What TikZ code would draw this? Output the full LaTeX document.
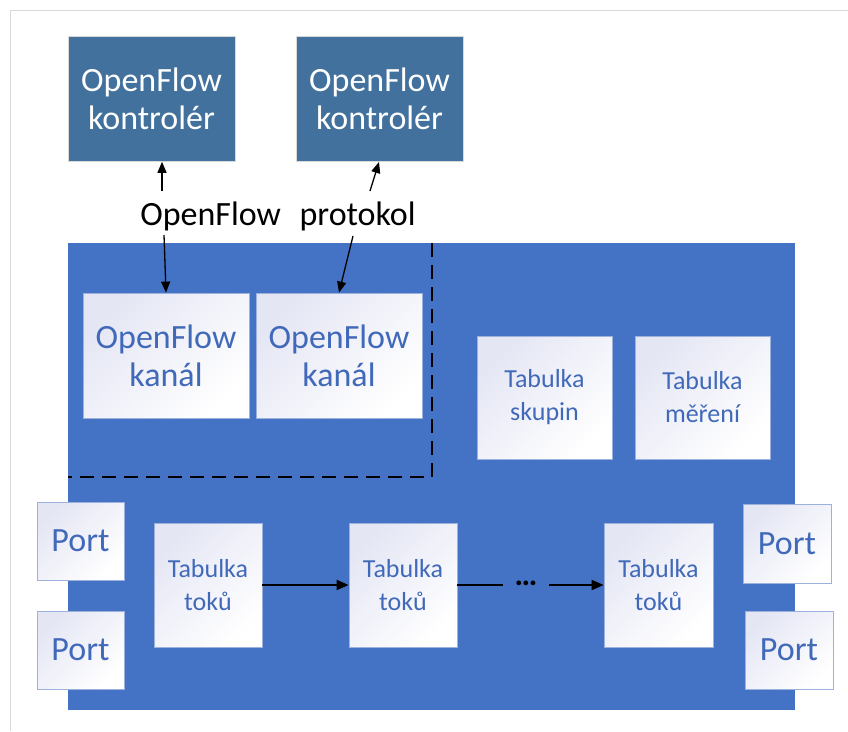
\documentclass[tikz,border=0pt]{standalone}
\usepackage{fontspec}
\setmainfont{Carlito}
\usetikzlibrary{arrows.meta}
\definecolor{ctrlblue}{HTML}{41719C}
\definecolor{bigblue}{HTML}{4472C4}
\definecolor{txtblue}{HTML}{4169B9}
\definecolor{boxedge}{HTML}{9DB1DE}
\definecolor{shadetop}{HTML}{E4E6F4}
\definecolor{framegray}{HTML}{D9D9D9}
\tikzset{
  ctrl/.style={draw=framegray, line width=0.6pt, fill=ctrlblue, text=white, inner sep=0pt, align=center,
    font=\fontsize{34}{38}\selectfont},
  wbox/.style={draw=boxedge, line width=0.8pt, top color=shadetop, bottom color=white, shading angle=45,
    text=txtblue, inner sep=0pt, align=center},
  bigtxt/.style={font=\fontsize{34}{38}\selectfont},
  smtxt/.style={font=\fontsize{26}{33}\selectfont},
  arr/.style={-{Triangle[length=11pt,width=9pt]}, line width=1.3pt, black},
  flowarr/.style={line width=2pt, black},
}
\begin{document}
\begin{tikzpicture}[x=1pt,y=-1pt]
\useasboundingbox (0,0) rectangle (848,731);
\fill[white] (0,0) rectangle (848,731);
% frame lines
\draw[framegray, line width=1pt] (10,731) -- (10,10) -- (848,10);

% controllers
\node[ctrl, minimum width=167pt, minimum height=125pt] (c1) at (151.5,99) {OpenFlow\\kontrolér};
\node[ctrl, minimum width=167pt, minimum height=125pt] (c2) at (379.5,99) {OpenFlow\\kontrolér};

% protocol label
\node[bigtxt, inner sep=0pt] (proto) at (278,216) {OpenFlow\hspace{11pt} protokol};

% big switch body
\fill[bigblue] (68,243) rectangle (795,710);

% dashed region
\coordinate (d1) at (432,243);
\coordinate (d2) at (432,477);
\coordinate (d3) at (68,477);
\draw[black, line width=1.5pt, dash pattern=on 14pt off 8pt] (d1) -- (d2) -- (d3);

% channels
\node[wbox, bigtxt, minimum width=166pt, minimum height=125pt] (ch1) at (166,355.5) {OpenFlow\\kanál};
\node[wbox, bigtxt, minimum width=166pt, minimum height=125pt] (ch2) at (339,355.5) {OpenFlow\\kanál};

% group / meter tables
\node[wbox, smtxt, minimum width=135pt, minimum height=123pt] (grp) at (544.5,397.5) {Tabulka\\skupin};
\node[wbox, smtxt, minimum width=135pt, minimum height=123pt] (met) at (702.5,397.5) {Tabulka\\měření};

% flow tables
\node[wbox, smtxt, minimum width=108pt, minimum height=124pt] (t1) at (208,585) {Tabulka\\toků};
\node[wbox, smtxt, minimum width=108pt, minimum height=124pt] (t2) at (403,585) {Tabulka\\toků};
\node[wbox, smtxt, minimum width=109pt, minimum height=124pt] (t3) at (658.5,585) {Tabulka\\toků};

% ports
\node[wbox, bigtxt, minimum width=87pt, minimum height=78pt] (pl1) at (80.5,541) {Port};
\node[wbox, bigtxt, minimum width=87pt, minimum height=78pt] (pl2) at (80.5,650) {Port};
\node[wbox, bigtxt, minimum width=88pt, minimum height=79pt] (pr1) at (787,543.5) {Port};
\node[wbox, bigtxt, minimum width=88pt, minimum height=78pt] (pr2) at (789,650) {Port};

% dots
\node[inner sep=0pt, minimum width=46pt, text height=3pt, text depth=3pt,
      font=\fontsize{32}{34}\selectfont\bfseries] (dots) at (526,585) {…};

% arrows to controllers
\coordinate (a1s) at (162,191);
\coordinate (a2s) at (370,191);
\coordinate (a2e) at (379,162);
\draw[arr] (a1s) -- (c1.south -| a1s);
\draw[arr] (a2s) -- (a2e);
% arrows to channels
\coordinate (b1s) at (164,235);
\coordinate (b2s) at (353,236);
\draw[arr] (b1s) -- (ch1.north);
\draw[arr] (b2s) -- (ch2.north);

% flow arrows
\draw[flowarr, -{Triangle[length=12pt,width=10pt]}] (t1.east) -- (t2.west);
\draw[flowarr] (t2.east) -- (dots.west);
\draw[flowarr, -{Triangle[length=12pt,width=10pt]}] (dots.east) -- (t3.west);
\end{tikzpicture}
\end{document}
